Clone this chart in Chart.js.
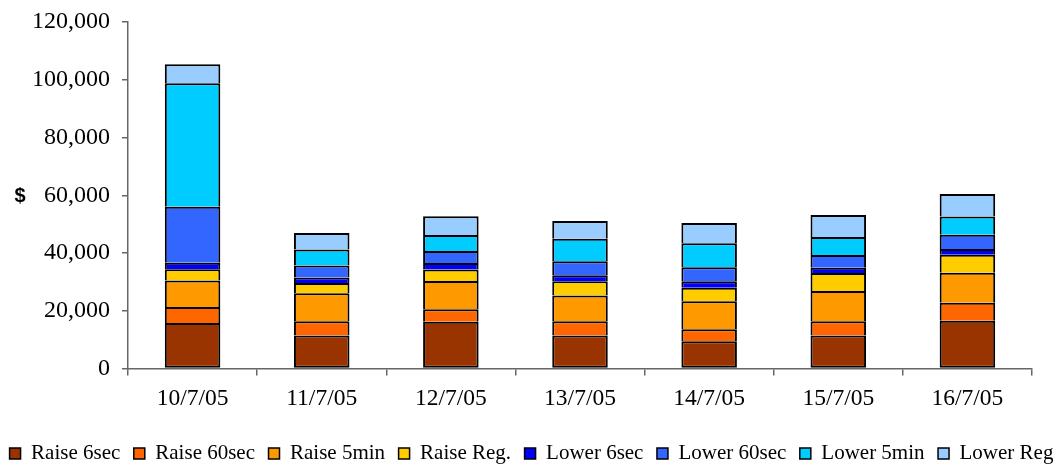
<!DOCTYPE html>
<html>
<head>
<meta charset="utf-8">
<script src="https://cdn.jsdelivr.net/npm/chart.js@4"></script>
<style>
  html, body { margin: 0; padding: 0; background: #fff; }
  #wrap { width: 1063px; height: 466px; }
</style>
</head>
<body>
<div id="wrap"><canvas id="c" width="1063" height="466"></canvas></div>
<script>
// Daily FCAS costs by service
const dates = ['10/7/05', '11/7/05', '12/7/05', '13/7/05', '14/7/05', '15/7/05', '16/7/05'];
const raise6sec  = [15800, 11400, 16200, 11400,  9400, 11400, 16500];
const raise60sec = [ 5500,  5000,  4300,  5000,  4200,  5000,  6300];
const raise5min  = [ 9200,  9700,  9800,  8900,  9700, 10400, 10400];
const raiseReg   = [ 3900,  3500,  4000,  4900,  4700,  6300,  6200];
const lower6sec  = [ 2200,  1900,  2200,  2100,  2200,  1800,  2000];
const lower60sec = [19400,  4200,  4200,  4800,  4900,  4400,  4900];
const lower5min  = [42800,  5500,  5500,  7800,  8300,  6200,  6300];
const lowerReg   = [ 6600,  5700,  6500,  6200,  7000,  7700,  7800];
const yTicks = [0, 20000, 40000, 60000, 80000, 100000, 120000];

const series = [
  ['Raise 6sec',  raise6sec,  '#993300'],
  ['Raise 60sec', raise60sec, '#FF6600'],
  ['Raise 5min',  raise5min,  '#FF9900'],
  ['Raise Reg.',  raiseReg,   '#FFCC00'],
  ['Lower 6sec',  lower6sec,  '#0000FF'],
  ['Lower 60sec', lower60sec, '#3366FF'],
  ['Lower 5min',  lower5min,  '#00CCFF'],
  ['Lower Reg',   lowerReg,   '#99CCFF']
];

const serif = "'Liberation Serif', 'Times New Roman', serif";

// Horizontal "$" unit label beside the value axis
const dollarLabel = {
  id: 'dollarLabel',
  afterDraw(chart) {
    const ctx = chart.ctx;
    const y = chart.scales.y.getPixelForValue(60000);
    ctx.save();
    ctx.font = "bold 20px 'Liberation Sans', Arial, sans-serif";
    ctx.fillStyle = '#000';
    ctx.textAlign = 'center';
    ctx.textBaseline = 'middle';
    ctx.fillText('$', 20, y + 1);
    ctx.restore();
  }
};

new Chart(document.getElementById('c'), {
  type: 'bar',
  data: {
    labels: dates,
    datasets: series.map(([label, data, color], i) => ({
      label,
      data,
      backgroundColor: color,
      borderColor: '#000',
      borderWidth: 2,
      // segments share one outline: only the lowest one keeps its bottom edge
      borderSkipped: i === 0 ? false : 'start',
      inflateAmount: 0,
      barPercentage: 0.43,
      categoryPercentage: 1.0
    }))
  },
  options: {
    responsive: false,
    animation: false,
    devicePixelRatio: 1,
    layout: { padding: { top: 22, right: -6, left: -6, bottom: -8 } },
    plugins: {
      tooltip: { enabled: false },
      legend: {
        position: 'bottom',
        labels: {
          color: '#000',
          font: { family: serif, size: 21 },
          boxWidth: 11,
          boxHeight: 11,
          padding: 13.5,
          generateLabels(chart) {
            return chart.data.datasets.map((ds, i) => ({
              text: ds.label,
              fillStyle: ds.backgroundColor,
              strokeStyle: '#000',
              lineWidth: 1.5,
              datasetIndex: i,
              hidden: false
            }));
          }
        }
      }
    },
    scales: {
      x: {
        stacked: true,
        border: { display: true, color: '#666', width: 1.5 },
        grid: { display: true, drawOnChartArea: false, drawTicks: true, tickLength: 7, color: '#666', lineWidth: 1.5, offset: true },
        ticks: { color: '#000', font: { family: serif, size: 23.5 }, padding: 9, maxRotation: 0 },
        afterFit(scale) { scale.height = 61; }
      },
      y: {
        stacked: true,
        min: 0,
        max: 120000,
        afterBuildTicks(scale) { scale.ticks = yTicks.map(v => ({ value: v })); },
        border: { display: true, color: '#666', width: 1.5 },
        grid: { display: true, drawOnChartArea: false, drawTicks: true, tickLength: 6, color: '#666', lineWidth: 1.5 },
        ticks: {
          color: '#000',
          font: { family: serif, size: 24 },
          padding: 12,
          callback: v => v.toLocaleString('en-US')
        },
        afterFit(scale) {
          scale.width = 134;
          scale.paddingTop = 0;
          scale.paddingBottom = 0;
        }
      },
      // empty right-hand margin so the category axis stops short of the edge
      yRight: {
        position: 'right',
        display: true,
        min: 0,
        max: 120000,
        border: { display: false },
        grid: { display: false },
        ticks: { display: false },
        afterFit(scale) { scale.width = 37; }
      }
    }
  },
  plugins: [dollarLabel]
});
</script>
</body>
</html>
